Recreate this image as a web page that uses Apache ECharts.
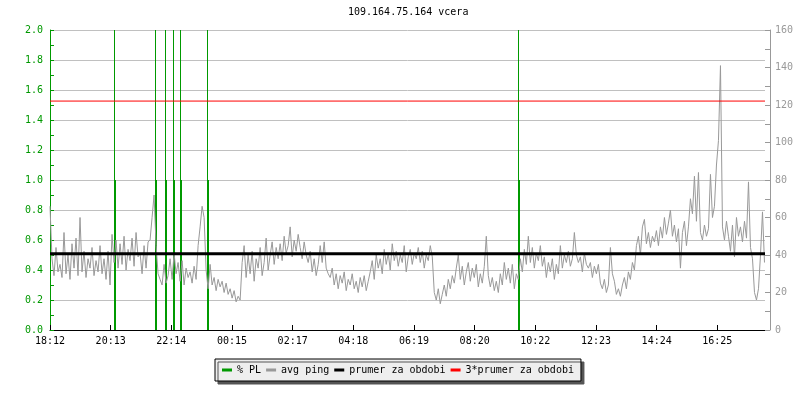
<!DOCTYPE html>
<html>
<head>
<meta charset="utf-8">
<script src="https://cdn.jsdelivr.net/npm/echarts@6/dist/echarts.min.js"></script>
<style>html,body{margin:0;padding:0;background:#fff}#c{width:800px;height:400px}</style>
</head>
<body>
<div id="c"></div>
<script>
// ---- data ----
var chartTitle = '109.164.75.164 vcera';
var startClock = '18:12';          // x axis origin
var spanMinutes = 1429;            // length of the period shown
var tickStepMinutes = 121.25;      // spacing of time ticks
var pingStepMinutes = 4;           // sampling step of avg ping
// avg ping (ms), one value every 4 minutes starting 18:12
var pingValues = [
66,38,29,44,31, 35,28,52,30,40, 27,46,33,49,29, 60,31,42,28,38,
33,44,29,37,31, 45,30,38,27,42, 24,51,36,48,33, 46,35,50,32,43,
37,49,34,52,39, 41,30,45,33,47, 48,60,72,45,30, 27,24,35,25,29,
38,27,41,30,36, 26,37,24,33,28, 31,25,34,27,45, 55,66,60,32,22,
35,24,28,21,27, 23,26,20,25,19, 22,17,21,15,18, 16,36,45,28,40,
30,42,26,38,33, 44,29,36,49,32, 40,47,35,44,38, 46,37,50,41,45,
55,39,48,42,51, 44,38,47,40,36, 42,31,38,29,35, 45,36,47,33,30,
28,33,24,30,22, 29,25,31,21,27, 24,30,22,26,20, 28,23,29,21,26,
31,37,27,40,33, 38,30,43,35,41, 32,46,37,42,34, 40,36,45,31,39,
43,35,41,38,44, 36,42,33,40,37, 45,39,20,16,22, 14,19,24,18,27,
22,29,25,33,40, 27,34,24,31,36, 26,33,28,35,23, 30,25,34,50,29,
23,28,21,26,20, 30,24,36,27,33, 25,35,22,30,27, 38,31,43,35,50,
36,44,33,41,37, 45,34,39,28,36, 31,38,27,35,30, 45,33,40,36,42,
34,38,52,40,36, 39,31,41,35,33, 36,28,34,30,35, 25,22,27,20,24,
44,30,26,19,22, 18,24,28,22,31, 27,36,32,45,50, 40,55,59,46,52,
44,50,47,53,45, 55,49,60,51,57, 64,50,56,47,54, 33,52,58,45,55,
70,62,82,58,84, 52,48,56,50,54, 83,60,66,88,101, 141,55,48,58,50,
42,56,39,60,50, 55,47,58,49,79, 44,38,20,16,22, 40,63,36
];
// packet loss events
var plClock = ['20:19','21:42','22:02','22:17','22:32','23:25','09:47'];
var plValues = [1.0, 1.0, 1.0, 1.0, 1.0, 1.0, 1.0];
var prumer = 40.7;   // period average of ping (ms)
var plAxisMax = 2.0, plAxisStep = 0.2;
var pingAxisMax = 160, pingAxisStep = 20;
var legendNames = ['% PL', 'avg ping', 'prumer za obdobi', '3*prumer za obdobi'];

// ---- helpers ----
function clockToMin(s) { var p = s.split(':'); return (+p[0]) * 60 + (+p[1]); }
var startMin = clockToMin(startClock);
function offsetMin(s) { var m = clockToMin(s) - startMin; if (m < 0) m += 1440; return m; }
function fmtClock(v) {
  var m = Math.floor(startMin + v + 1e-6) % 1440;
  var h = Math.floor(m / 60), mm = m % 60;
  return (h < 10 ? '0' : '') + h + ':' + (mm < 10 ? '0' : '') + mm;
}
var pingData = pingValues.map(function (v, i) { return [i * pingStepMinutes, v]; });
var plData = plClock.map(function (c, i) { return [offsetMin(c), plValues[i]]; });

var FONT = 'DejaVu Sans Mono';
var GREEN = '#009900', GRAY = '#999999', GRID = '#c0c0c0';

var chart = echarts.init(document.getElementById('c'), null, { renderer: 'canvas' });
chart.setOption({
  animation: false,
  backgroundColor: '#ffffff',
  textStyle: { fontFamily: FONT, fontSize: 10 },
  title: {
    text: chartTitle, left: 348, top: 7, padding: 0,
    textStyle: { fontFamily: FONT, fontSize: 10, fontWeight: 'normal', color: '#000' }
  },
  grid: { left: 50, right: 35, top: 30, bottom: 70, containLabel: false },
  legend: {
    data: legendNames,
    left: 215, top: 359,
    orient: 'horizontal',
    icon: 'rect', itemWidth: 10, itemHeight: 3, itemGap: 5,
    padding: [6, 7],
    backgroundColor: '#eeeeee', borderColor: '#000', borderWidth: 1,
    shadowColor: '#555555', shadowBlur: 0, shadowOffsetX: 3, shadowOffsetY: 3,
    textStyle: { fontFamily: FONT, fontSize: 10, color: '#000', padding: [0, 0, 0, 0] },
    selectedMode: false
  },
  xAxis: {
    type: 'value', min: 0, max: spanMinutes, interval: tickStepMinutes,
    axisLine: { show: true, lineStyle: { color: '#000', width: 1 } },
    axisTick: { show: true, inside: true, length: 5, lineStyle: { color: '#000' } },
    axisLabel: { color: '#000', fontFamily: FONT, fontSize: 10, margin: 6, formatter: fmtClock, showMaxLabel: false, showMinLabel: true },
    splitLine: { show: false }
  },
  yAxis: [
    {
      type: 'value', min: 0, max: plAxisMax, interval: plAxisStep, position: 'left',
      axisLine: { show: true, lineStyle: { color: GREEN, width: 1 } },
      axisTick: { show: true, inside: true, length: 4, lineStyle: { color: GREEN } },
      minorTick: { show: true, splitNumber: 2, length: 4, lineStyle: { color: GREEN } },
      axisLabel: { color: GREEN, fontFamily: FONT, fontSize: 10, margin: 7, formatter: function (v) { return v.toFixed(1); } },
      splitLine: { show: true, lineStyle: { color: GRID, width: 1 } }
    },
    {
      type: 'value', min: 0, max: pingAxisMax, interval: pingAxisStep, position: 'right', offset: 5,
      axisLine: { show: true, lineStyle: { color: GRAY, width: 1 } },
      axisTick: { show: true, inside: true, length: 5, lineStyle: { color: GRAY } },
      minorTick: { show: true, splitNumber: 2, length: 5, lineStyle: { color: GRAY } },
      axisLabel: { color: GRAY, fontFamily: FONT, fontSize: 10, margin: 5 },
      splitLine: { show: false }
    }
  ],
  series: [
    {
      name: 'avg ping', type: 'line', yAxisIndex: 1, data: pingData,
      showSymbol: false, symbol: 'none', clip: true,
      lineStyle: { color: GRAY, width: 1 }, itemStyle: { color: GRAY }
    },
    {
      name: '% PL', type: 'custom', yAxisIndex: 0, data: plData, clip: true,
      itemStyle: { color: GREEN },
      renderItem: function (params, api) {
        var p0 = api.coord([api.value(0), 0]);
        var p1 = api.coord([api.value(0), api.value(1)]);
        var top = params.coordSys.y;
        var x = Math.round(p0[0]);
        return {
          type: 'group',
          children: [
            { type: 'line', shape: { x1: x + 0.5, y1: top, x2: x + 0.5, y2: p1[1] }, style: { stroke: GREEN, lineWidth: 1 } },
            { type: 'rect', shape: { x: x, y: p1[1], width: 2, height: p0[1] - p1[1] }, style: { fill: GREEN } }
          ]
        };
      }
    },
    {
      name: 'prumer za obdobi', type: 'line', yAxisIndex: 1,
      data: [[0, prumer], [spanMinutes, prumer]],
      showSymbol: false, symbol: 'none',
      lineStyle: { color: '#000', width: 3 }, itemStyle: { color: '#000' }
    },
    {
      name: '3*prumer za obdobi', type: 'line', yAxisIndex: 1,
      data: [[0, 3 * prumer], [spanMinutes, 3 * prumer]],
      showSymbol: false, symbol: 'none',
      lineStyle: { color: '#ff0000', width: 1 }, itemStyle: { color: '#ff0000' }
    }
  ]
});
</script>
</body>
</html>
